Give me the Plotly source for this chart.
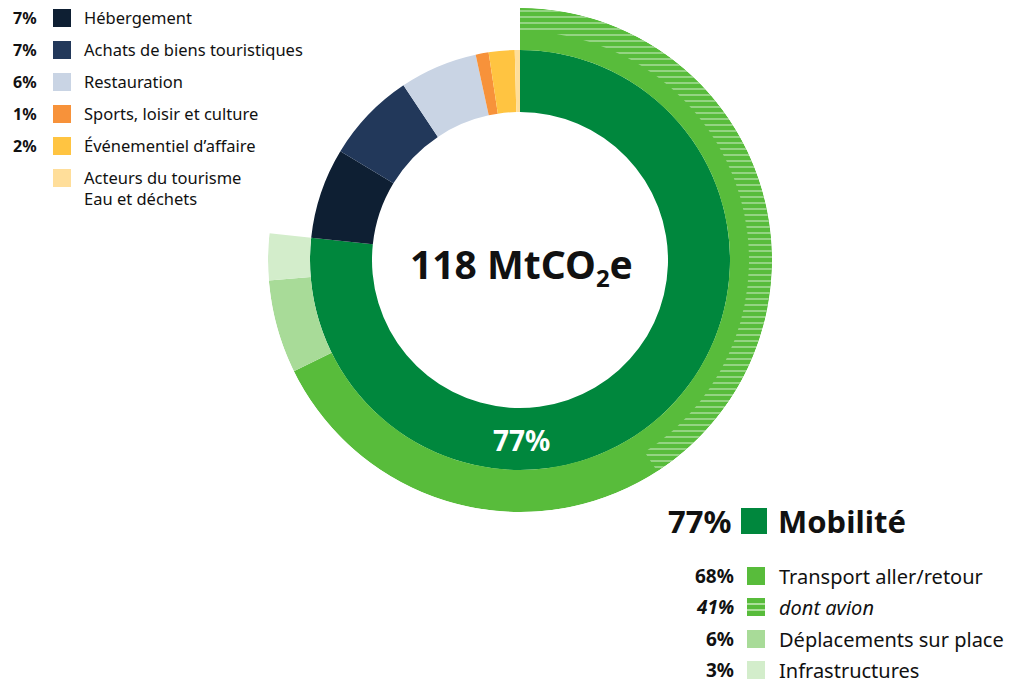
import plotly.graph_objects as go

# ---------------- data ----------------
inner_labels = ["Mobilité", "Hébergement", "Achats de biens touristiques", "Restauration",
                "Sports, loisir et culture", "Événementiel d’affaire",
                "Acteurs du tourisme<br>Eau et déchets"]
inner_values = [77, 7, 7, 6, 1, 2, 0.4]
inner_pct_text = ["77%", "7%", "7%", "6%", "1%", "2%", ""]
inner_colors = ["#00873D", "#0E1F33", "#22385A", "#C9D4E4", "#F7923A", "#FFC441", "#FFDE9A"]

outer_labels = ["Transport aller/retour", "Déplacements sur place", "Infrastructures"]
outer_values = [68, 6, 3]
outer_colors = ["#58BC3B", "#A8DB98", "#D3EDCB"]

avion_label = "dont avion"
avion_value = 41

total_label = "118 MtCO<sub><span style='font-size:24px'>2</span></sub>e"

# ---------------- geometry helpers ----------------
W, H = 1022, 684
CX, CY, R = 520, 260, 252
R_IN_HOLE, R_IN_OUT = 148, 210
R_HATCH = 229


def px(x):
    return x / W


def py(y):
    return 1 - y / H


total = sum(inner_values)
deg = 360.0 / total


def seg(values):
    thetas, widths = [], []
    cum = 0.0
    for v in values:
        thetas.append((cum + v / 2) * deg)
        widths.append(v * deg)
        cum += v
    return thetas, widths


fig = go.Figure()

t_in, w_in = seg(inner_values)
fig.add_trace(go.Barpolar(
    theta=t_in, width=w_in,
    r=[R_IN_OUT - R_IN_HOLE] * len(inner_values), base=[R_IN_HOLE] * len(inner_values),
    marker=dict(color=inner_colors, line=dict(width=0)),
    hoverinfo="skip", showlegend=False))

t_out, w_out = seg(outer_values)
fig.add_trace(go.Barpolar(
    theta=t_out, width=w_out,
    r=[R - R_IN_OUT] * len(outer_values), base=[R_IN_OUT] * len(outer_values),
    marker=dict(color=outer_colors, line=dict(width=0)),
    hoverinfo="skip", showlegend=False))

t_av, w_av = seg([avion_value])
fig.add_trace(go.Barpolar(
    theta=t_av, width=w_av, r=[R - R_HATCH], base=[R_HATCH],
    marker=dict(color=outer_colors[0], line=dict(width=0),
                pattern=dict(shape="-", fgcolor="#FFFFFF", bgcolor=outer_colors[0],
                             fgopacity=0.55, size=6, solidity=0.22)),
    hoverinfo="skip", showlegend=False))

annotations = []
shapes = []
FONT = "Noto Sans"
DARK = "#111111"

# center texts
annotations.append(dict(x=px(CX + 1), y=py(266), xref="paper", yref="paper", text="<b>" + total_label + "</b>",
                        showarrow=False, font=dict(family=FONT, size=39, color=DARK), xanchor="center", yanchor="middle"))
annotations.append(dict(x=px(CX + 1), y=py(440), xref="paper", yref="paper", text="<b>" + inner_pct_text[0] + "</b>",
                        showarrow=False, font=dict(family=FONT, size=28, color="white"), xanchor="center", yanchor="middle"))

# top-left legend
rows_y = [18, 50, 82, 114, 146, 178]
for i in range(1, len(inner_labels)):
    yc = rows_y[i - 1]
    shapes.append(dict(type="rect", xref="paper", yref="paper", x0=px(53), x1=px(71), y0=py(yc - 9), y1=py(yc + 9),
                       fillcolor=inner_colors[i], line=dict(width=0)))
    if inner_pct_text[i]:
        annotations.append(dict(x=px(39), y=py(yc), xref="paper", yref="paper", text="<b>" + inner_pct_text[i] + "</b>",
                                showarrow=False, font=dict(family=FONT, size=16, color=DARK),
                                xanchor="right", yanchor="middle"))
    multi = "<br>" in inner_labels[i]
    annotations.append(dict(x=px(82), y=py(yc - 14) if multi else py(yc), xref="paper", yref="paper",
                            text=inner_labels[i], showarrow=False,
                            font=dict(family=FONT, size=16.5, color=DARK),
                            xanchor="left", yanchor="top" if multi else "middle", align="left"))

# bottom-right legend
annotations.append(dict(x=px(733), y=py(521), xref="paper", yref="paper", text="<b>" + inner_pct_text[0] + "</b>",
                        showarrow=False, font=dict(family=FONT, size=31, color=DARK), xanchor="right", yanchor="middle"))
shapes.append(dict(type="rect", xref="paper", yref="paper", x0=px(741), x1=px(767), y0=py(508), y1=py(534),
                   fillcolor=inner_colors[0], line=dict(width=0)))
annotations.append(dict(x=px(776), y=py(521), xref="paper", yref="paper", text="<b>" + inner_labels[0] + "</b>",
                        showarrow=False, font=dict(family=FONT, size=31, color=DARK), xanchor="left", yanchor="middle"))

sub_labels = [outer_labels[0], avion_label, outer_labels[1], outer_labels[2]]
sub_vals = [outer_values[0], avion_value, outer_values[1], outer_values[2]]
sub_colors = [outer_colors[0], outer_colors[0], outer_colors[1], outer_colors[2]]
sub_y = [576, 607, 639, 670]
for i, lab in enumerate(sub_labels):
    yc = sub_y[i]
    italic = (i == 1)
    pct = f"{sub_vals[i]}%"
    pct_txt = f"<b><i>{pct}</i></b>" if italic else f"<b>{pct}</b>"
    lab_txt = f"<i>{lab}</i>" if italic else lab
    annotations.append(dict(x=px(736), y=py(yc), xref="paper", yref="paper", text=pct_txt,
                            showarrow=False, font=dict(family=FONT, size=19, color=DARK),
                            xanchor="right", yanchor="middle"))
    shapes.append(dict(type="rect", xref="paper", yref="paper", x0=px(747), x1=px(765), y0=py(yc - 9), y1=py(yc + 9),
                       fillcolor=sub_colors[i], line=dict(width=0)))
    if italic:
        for dy in (-3, 3):
            shapes.append(dict(type="line", xref="paper", yref="paper", x0=px(747), x1=px(765),
                               y0=py(yc + dy), y1=py(yc + dy), line=dict(color="#C8EBBD", width=1.5)))
    annotations.append(dict(x=px(777), y=py(yc), xref="paper", yref="paper", text=lab_txt,
                            showarrow=False, font=dict(family=FONT, size=20, color=DARK),
                            xanchor="left", yanchor="middle"))

fig.update_layout(
    width=W, height=H,
    margin=dict(l=0, r=0, t=0, b=0),
    paper_bgcolor="white", plot_bgcolor="white",
    polar=dict(
        domain=dict(x=[px(CX - R), px(CX + R)], y=[py(CY + R), py(CY - R)]),
        bgcolor="rgba(0,0,0,0)",
        radialaxis=dict(range=[0, R], visible=False, showgrid=False),
        angularaxis=dict(rotation=90, direction="clockwise", visible=False, showgrid=False),
        hole=0,
    ),
    barmode="overlay",
    annotations=annotations,
    shapes=shapes,
    showlegend=False,
)

fig.write_html("out.html")
